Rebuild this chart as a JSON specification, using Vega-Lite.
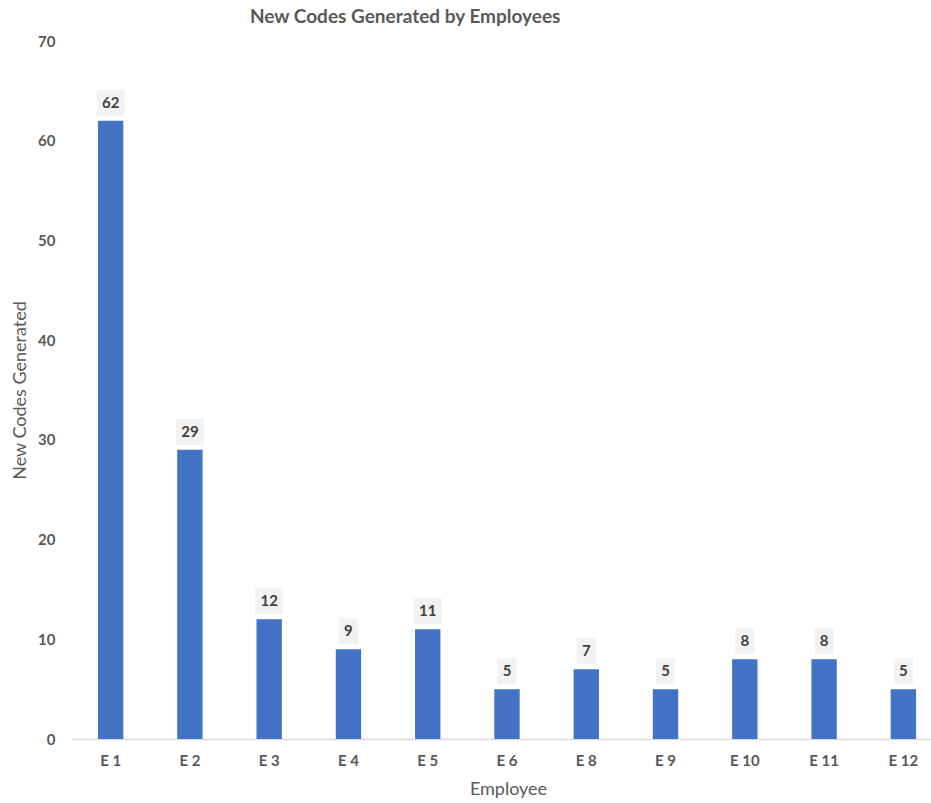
{
  "$schema": "https://vega.github.io/schema/vega-lite/v6.json",
  "autosize": {"type": "none"},
  "padding": {"left": 71, "top": 41, "right": 0, "bottom": 64},
  "width": 872,
  "height": 698,
  "title": {
    "text": "New Codes Generated by Employees",
    "anchor": "start",
    "frame": "group",
    "dx": 179,
    "offset": 7,
    "font": "Lato",
    "fontSize": 19,
    "fontWeight": "bold",
    "color": "#595959"
  },
  "data": {
    "values": [
      {"employee": "E 1", "codes": 62},
      {"employee": "E 2", "codes": 29},
      {"employee": "E 3", "codes": 12},
      {"employee": "E 4", "codes": 9},
      {"employee": "E 5", "codes": 11},
      {"employee": "E 6", "codes": 5},
      {"employee": "E 8", "codes": 7},
      {"employee": "E 9", "codes": 5},
      {"employee": "E 10", "codes": 8},
      {"employee": "E 11", "codes": 8},
      {"employee": "E 12", "codes": 5}
    ]
  },
  "encoding": {
    "x": {
      "field": "employee",
      "type": "nominal",
      "sort": null,
      "title": "Employee",
      "scale": {"paddingInner": 0.68, "paddingOuter": 0.34},
      "axis": {
        "labelAngle": 0,
        "ticks": false,
        "domainColor": "#D9D9D9",
        "domainWidth": 1.5,
        "labelFont": "Lato",
        "labelFontSize": 15,
        "labelFontWeight": "bold",
        "labelColor": "#595959",
        "labelPadding": 14,
        "titleFont": "Lato",
        "titleFontSize": 18,
        "titleFontWeight": "normal",
        "titleColor": "#595959",
        "titlePadding": 12,
        "titleX": 437
      }
    },
    "y": {
      "field": "codes",
      "type": "quantitative",
      "title": "New Codes Generated",
      "scale": {"domain": [0, 70], "nice": false},
      "axis": {
        "values": [0, 10, 20, 30, 40, 50, 60, 70],
        "grid": false,
        "domain": false,
        "ticks": false,
        "labelFont": "Lato",
        "labelFontSize": 15,
        "labelFontWeight": "bold",
        "labelColor": "#595959",
        "labelPadding": 16,
        "titleFont": "Lato",
        "titleFontSize": 18,
        "titleFontWeight": "normal",
        "titleColor": "#595959",
        "titlePadding": 8
      }
    }
  },
  "layer": [
    {
      "mark": {"type": "bar", "color": "#4472C4"}
    },
    {
      "mark": {"type": "bar", "color": "#F2F2F2", "yOffset": -5, "y2Offset": -31},
      "encoding": {
        "y2": {"field": "codes"},
        "size": {"condition": {"test": "datum.codes >= 10", "value": 28}, "value": 19}
      }
    },
    {
      "mark": {
        "type": "text",
        "dy": -18,
        "baseline": "middle",
        "font": "Lato",
        "fontSize": 15,
        "fontWeight": "bold",
        "color": "#404040"
      },
      "encoding": {"text": {"field": "codes", "type": "quantitative"}}
    }
  ],
  "config": {"view": {"stroke": null}, "background": "white"}
}
